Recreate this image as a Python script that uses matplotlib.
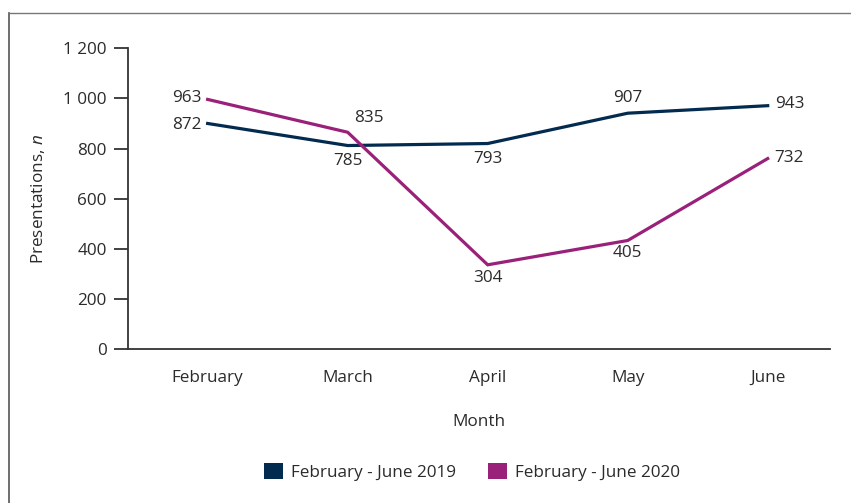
import matplotlib
matplotlib.use('Agg')
import matplotlib.pyplot as plt
from matplotlib.patches import Patch
from matplotlib.lines import Line2D

# data
months = ['February', 'March', 'April', 'May', 'June']
# line positions as drawn in the figure
line_2019 = [900, 812, 820, 941, 971]
line_2020 = [996, 865, 336, 433, 760]
# printed data labels
labels_2019 = [872, 785, 793, 907, 943]
labels_2020 = [963, 835, 304, 405, 732]
series_names = ['February - June 2019', 'February - June 2020']
yticks = [0, 200, 400, 600, 800, 1000, 1200]

c2019 = '#022b4f'
c2020 = '#9a2179'
txt = '#2b2b2b'

plt.rcParams['font.family'] = ['Open Sans', 'DejaVu Sans']
plt.rcParams['mathtext.fontset'] = 'custom'
plt.rcParams['mathtext.it'] = 'Open Sans:italic'
plt.rcParams['mathtext.rm'] = 'Open Sans'
fs = 12.3

fig = plt.figure(figsize=(8.51, 5.03), dpi=100)
ax = fig.add_axes([127.7 / 851, 1 - 349 / 503, (830 - 127.7) / 851, (349 - 48.3) / 503])

x = list(range(len(months)))
ax.plot(x, line_2019, color=c2019, lw=2.3, solid_joinstyle='miter')
ax.plot(x, line_2020, color=c2020, lw=2.3, solid_joinstyle='miter')

ax.set_xlim(-0.571, 4.445)
ax.set_ylim(0, 1200)
ax.set_yticks(yticks)
ax.set_yticklabels([f'{v:,}'.replace(',', ' ') if v >= 1000 else str(v) for v in yticks])
ax.set_xticks(x)
ax.set_xticklabels(months)

for s in ['top', 'right']:
    ax.spines[s].set_visible(False)
for s in ['left', 'bottom']:
    ax.spines[s].set_color('#333333')
    ax.spines[s].set_linewidth(1.3)
ax.tick_params(axis='y', length=10, width=1.3, color='#333333', labelsize=fs, labelcolor=txt, pad=5)
ax.tick_params(axis='x', length=0, labelsize=fs, labelcolor=txt, pad=15)

ax.set_ylabel('Presentations, $n$', fontsize=fs, color=txt, labelpad=12)
ax.set_xlabel('Month', fontsize=fs, color=txt, labelpad=20)

# (dx, dy, ha, va) offsets in pixels for each label
pos_2019 = [(-6, -2, 'right', 'center'), (0, -7, 'center', 'top'), (0, -7, 'center', 'top'),
            (0, 7, 'center', 'bottom'), (7, 2, 'left', 'center')]
pos_2020 = [(-6, 1, 'right', 'center'), (6, 6, 'left', 'bottom'), (0, -5, 'center', 'top'),
            (0, -5, 'center', 'top'), (7, 1, 'left', 'center')]

for vals, labs, poss in [(line_2019, labels_2019, pos_2019), (line_2020, labels_2020, pos_2020)]:
    for i, (v, lab, (dx, dy, ha, va)) in enumerate(zip(vals, labs, poss)):
        ax.annotate(str(lab), (i, v), xytext=(dx, dy), textcoords='offset pixels',
                    ha=ha, va=va, fontsize=fs, color=txt)

handles = [Patch(facecolor=c2019, edgecolor='none'), Patch(facecolor=c2020, edgecolor='none')]
fig.legend(handles, series_names, loc='center', bbox_to_anchor=(472 / 851, 1 - 472 / 503),
           ncol=2, frameon=False, fontsize=fs, handlelength=1.1, handleheight=1.1,
           handletextpad=0.45, columnspacing=1.9, labelcolor=txt)

# outer frame lines (left and top)
fig.add_artist(Line2D([9 / 851, 9 / 851], [0, 1 - 12.7 / 503], transform=fig.transFigure,
                      color='#555555', lw=1.2))
fig.add_artist(Line2D([9 / 851, 1], [1 - 12.7 / 503, 1 - 12.7 / 503], transform=fig.transFigure,
                      color='#777777', lw=1.0))

fig.savefig('out.png', dpi=100)
